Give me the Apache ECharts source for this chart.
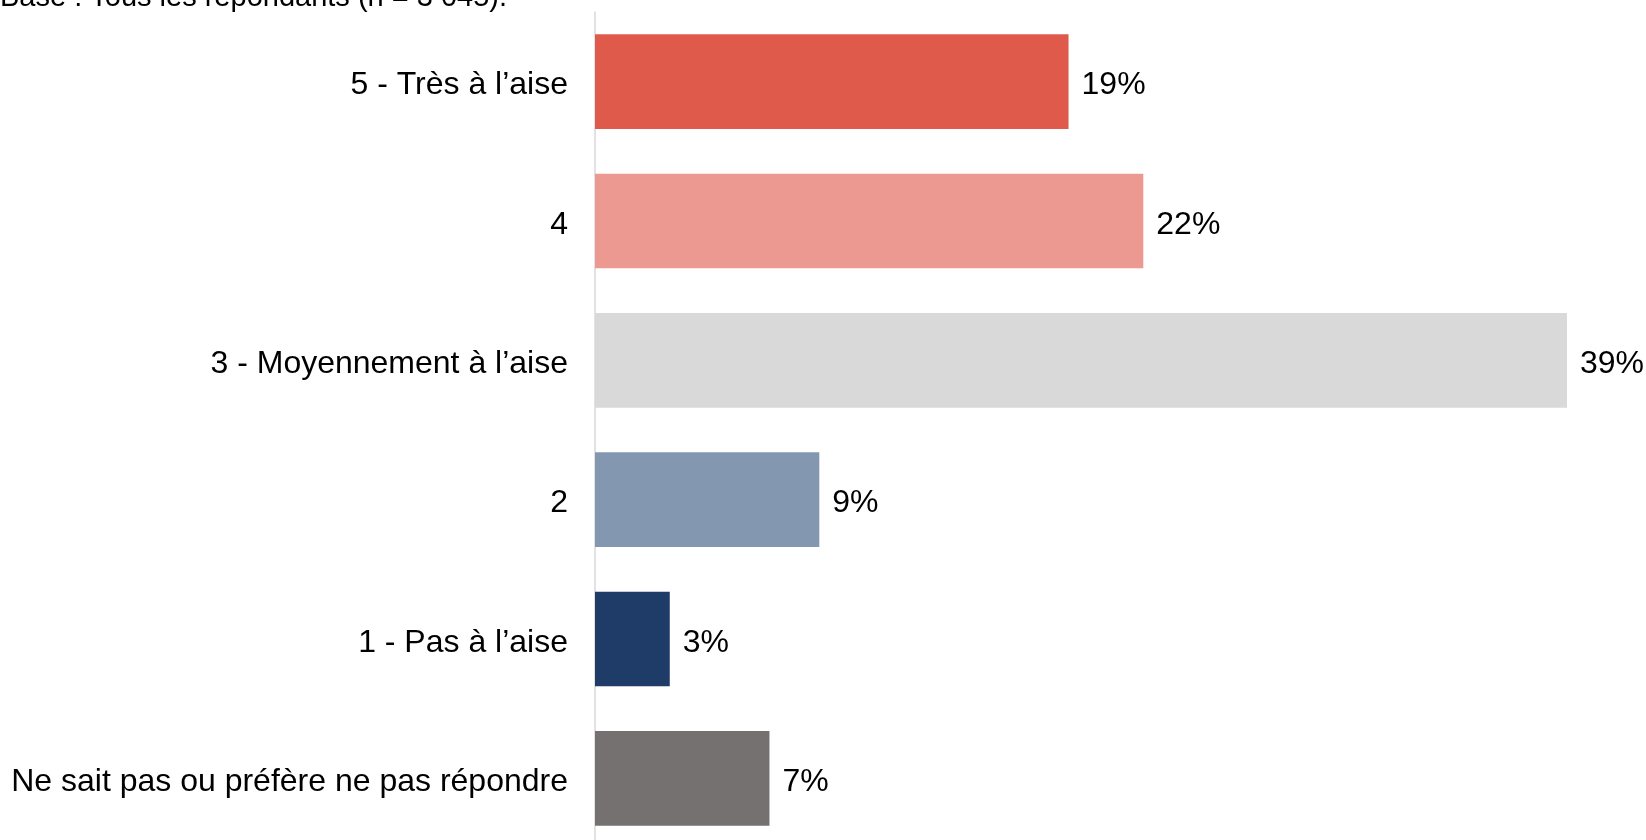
<!DOCTYPE html>
<html>
<head>
<meta charset="utf-8">
<script src="https://cdn.jsdelivr.net/npm/echarts@6/dist/echarts.min.js"></script>
<style>
  html, body { margin: 0; padding: 0; background: #ffffff; }
  #chart { width: 1646px; height: 840px; }
</style>
</head>
<body>
<div id="chart"></div>
<script>
// Answer categories, top to bottom
const categories = [
  '5 - Très à l’aise',
  '4',
  '3 - Moyennement à l’aise',
  '2',
  '1 - Pas à l’aise',
  'Ne sait pas ou préfère ne pas répondre'
];
// Share of respondents, in percent
const shares = [19, 22, 39, 9, 3, 7];
// One fill per answer
const barColors = ['#E05A4B', '#EC9A91', '#D9D9D9', '#8497B0', '#1F3B68', '#767171'];
const baseNote = 'Base : Tous les répondants (n = 3 045).';

const font = '"Liberation Sans", Arial, sans-serif';
const fontSize = 32;

const chart = echarts.init(document.getElementById('chart'), null, { renderer: 'canvas' });
chart.setOption({
  animation: false,
  backgroundColor: '#ffffff',
  graphic: [{
    type: 'text',
    left: 0,
    top: -17,
    style: {
      text: baseNote,
      fontFamily: font,
      fontSize: 29,
      fill: '#000000'
    }
  }],
  grid: {
    left: 595, right: 79, top: 12, height: 836,
    containLabel: false,
    outerBoundsMode: 'none'
  },
  xAxis: {
    type: 'value',
    min: 0,
    max: 39,
    show: false
  },
  yAxis: {
    type: 'category',
    inverse: true,
    data: categories,
    axisLine: { show: true, lineStyle: { color: '#D9D9D9', width: 1.5 } },
    axisTick: { show: false },
    axisLabel: {
      margin: 27,
      formatter: v => '{t|' + v + '}',
      rich: {
        t: {
          padding: [8, 0, 0, 0],
          fontFamily: font,
          fontSize: fontSize,
          color: '#000000'
        }
      }
    }
  },
  series: [{
    type: 'bar',
    data: shares.map((v, i) => ({ value: v, itemStyle: { color: barColors[i] } })),
    barWidth: '68%',
    label: {
      show: true,
      position: 'right',
      distance: 13,
      offset: [0, 4],
      formatter: p => p.value + '%',
      fontFamily: font,
      fontSize: fontSize,
      color: '#000000'
    }
  }]
});
</script>
</body>
</html>
